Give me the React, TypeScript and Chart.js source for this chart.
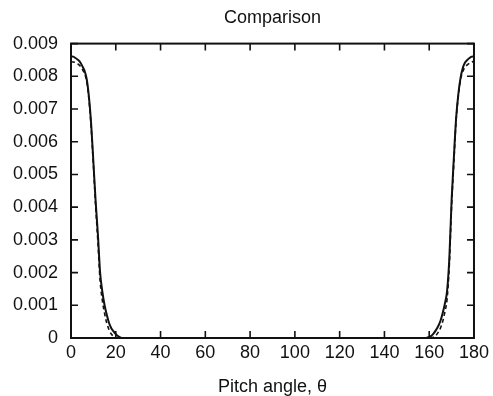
import React, { useEffect, useRef } from "react";
import { Chart, registerables } from "chart.js";

Chart.register(...registerables);

// Pitch angles (degrees)
const angles = [
  0, 1, 2, 3, 4, 5, 6, 7, 8, 9, 10, 11, 12, 13, 14, 15, 16, 17, 18, 19, 20, 21, 22, 23, 30,
  90,
  150, 157, 158, 159, 160, 161, 162, 163, 164, 165, 166, 167, 168, 169, 170, 171, 172, 173, 174, 175, 176, 177, 178, 179, 180,
];

// Solid curve values (x 1e-3)
const solidVals = [
  8.61, 8.60, 8.56, 8.51, 8.44, 8.32, 8.18, 7.92, 7.38, 6.55, 5.38, 4.18, 3.18, 2.0, 1.42, 1.0, 0.70, 0.46, 0.30, 0.20, 0.12, 0.06, 0.02, 0, 0,
  0,
  0, 0, 0, 0.01, 0.03, 0.07, 0.14, 0.24, 0.36, 0.52, 0.76, 1.05, 1.45, 2.45, 4.2, 5.5, 6.7, 7.45, 7.95, 8.25, 8.42, 8.50, 8.56, 8.60, 8.61,
];

// Dashed curve values (x 1e-3)
const dashedVals = [
  8.45, 8.44, 8.42, 8.38, 8.32, 8.22, 8.08, 7.85, 7.30, 6.45, 5.30, 4.05, 2.95, 1.75, 1.15, 0.75, 0.45, 0.25, 0.12, 0.05, 0.02, 0, 0, 0, 0,
  0,
  0, 0, 0, 0, 0, 0, 0.03, 0.08, 0.17, 0.30, 0.50, 0.80, 1.20, 2.25, 4.05, 5.35, 6.65, 7.40, 7.90, 8.15, 8.28, 8.35, 8.40, 8.44, 8.45,
];

const xTicks = [0, 20, 40, 60, 80, 100, 120, 140, 160, 180];
const yTicks = [0, 0.001, 0.002, 0.003, 0.004, 0.005, 0.006, 0.007, 0.008, 0.009];

const FONT = "'Liberation Sans', Arial, Helvetica, sans-serif";
const INK = "#111";

const framePlugin = {
  id: "frameTicks",
  afterDatasetsDraw(chart: any) {
    const { ctx, chartArea } = chart;
    const { left, right, top, bottom } = chartArea;
    const xs = chart.scales.x;
    const ys = chart.scales.y;
    const len = 7;
    ctx.save();
    ctx.strokeStyle = INK;
    ctx.lineWidth = 1.6;
    ctx.beginPath();
    for (const v of xTicks) {
      const px = xs.getPixelForValue(v);
      ctx.moveTo(px, bottom);
      ctx.lineTo(px, bottom - len);
      ctx.moveTo(px, top);
      ctx.lineTo(px, top + len);
    }
    for (const v of yTicks) {
      const py = ys.getPixelForValue(v);
      ctx.moveTo(left, py);
      ctx.lineTo(left + len, py);
      ctx.moveTo(right, py);
      ctx.lineTo(right - len, py);
    }
    ctx.stroke();
    ctx.lineWidth = 2;
    ctx.strokeRect(left, top, right - left, bottom - top);
    ctx.restore();
  },
};

export default function App() {
  const ref = useRef<HTMLCanvasElement | null>(null);

  useEffect(() => {
    document.body.style.margin = "0";
    const canvas = ref.current;
    if (!canvas) return;
    const solid = angles.map((a, i) => ({ x: a, y: solidVals[i] / 1000 }));
    const dashed = angles.map((a, i) => ({ x: a, y: dashedVals[i] / 1000 }));
    const chart = new Chart(canvas, {
      type: "line",
      data: {
        datasets: [
          {
            data: solid,
            borderColor: INK,
            borderWidth: 2,
            pointRadius: 0,
            cubicInterpolationMode: "monotone",
            fill: false,
          },
          {
            data: dashed,
            borderColor: INK,
            borderWidth: 1.6,
            borderDash: [4, 3],
            pointRadius: 0,
            cubicInterpolationMode: "monotone",
            fill: false,
          },
        ],
      },
      options: {
        animation: false,
        responsive: false,
        devicePixelRatio: 1,
        layout: { padding: { left: 0, right: 18, top: 7, bottom: 0 } },
        plugins: {
          legend: { display: false },
          tooltip: { enabled: false },
          title: {
            display: true,
            text: "Comparison",
            fullSize: false,
            color: INK,
            font: { family: FONT, size: 18, weight: "normal", lineHeight: 1.2 },
            padding: { top: 0, bottom: 15 },
          },
        },
        scales: {
          x: {
            type: "linear",
            min: 0,
            max: 180,
            afterBuildTicks: (scale: any) => {
              scale.ticks = xTicks.map((v) => ({ value: v }));
            },
            afterFit: (scale: any) => {
              scale.height = 58;
            },
            grid: { display: false, drawTicks: false },
            border: { display: false },
            ticks: {
              color: INK,
              padding: 4,
              maxRotation: 0,
              font: { family: FONT, size: 18 },
              callback: (v: any) => String(v),
            },
            title: {
              display: true,
              text: "Pitch angle, θ",
              color: INK,
              font: { family: FONT, size: 18, lineHeight: 1 },
              padding: { top: 0, bottom: 0 },
            },
          },
          y: {
            type: "linear",
            min: 0,
            max: 0.009,
            afterBuildTicks: (scale: any) => {
              scale.ticks = yTicks.map((v) => ({ value: v }));
            },
            afterFit: (scale: any) => {
              scale.width = 71;
            },
            grid: { display: false, drawTicks: false },
            border: { display: false },
            ticks: {
              color: INK,
              padding: 13,
              font: { family: FONT, size: 18 },
              callback: (v: any) => (Number(v) === 0 ? "0" : Number(v).toFixed(3)),
            },
          },
        },
      },
      plugins: [framePlugin],
    } as any);
    return () => chart.destroy();
  }, []);

  return (
    <div style={{ width: 493, height: 396, background: "#fff" }}>
      <canvas ref={ref} width={493} height={396} style={{ display: "block" }} />
    </div>
  );
}
